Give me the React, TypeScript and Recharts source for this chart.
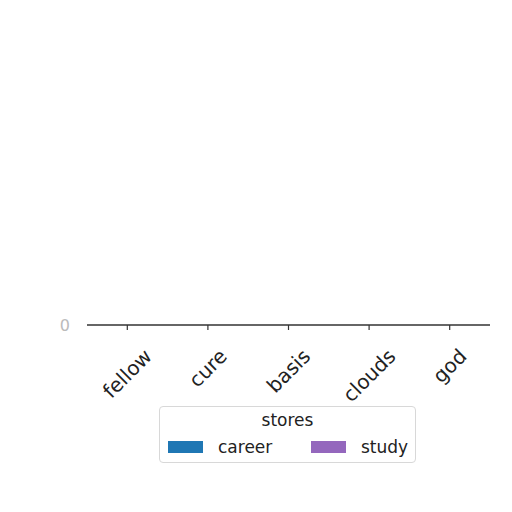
import React, { useLayoutEffect, useRef, useState } from 'react';
import { BarChart, Bar, XAxis, YAxis, Legend } from 'recharts';

const categories = ['fellow', 'cure', 'basis', 'clouds', 'god'];
const career = [0, 0, 0, 0, 0];
const study = [0, 0, 0, 0, 0];
const yTicks = [0];
const legendTitle = 'stores';

const data = categories.map((c, i) => ({ name: c, career: career[i], study: study[i] }));

const FONT = '"DejaVu Sans", sans-serif';
const FS = 17;
const TFS = 20;

function RotTick(props: any) {
  const { x, y, payload } = props;
  const ref = useRef<SVGTextElement>(null);
  const [len, setLen] = useState(payload.value.length * TFS * 0.58);
  useLayoutEffect(() => {
    if (ref.current) {
      const l = ref.current.getComputedTextLength();
      if (Math.abs(l - len) > 0.5) setLen(l);
    }
  }, [payload.value]);
  const h = (len + TFS * 0.8) * Math.SQRT1_2;
  const cy = y + 17 + h / 2;
  return (
    <text
      ref={ref}
      x={x}
      y={cy}
      textAnchor="middle"
      dominantBaseline="central"
      transform={`rotate(-45, ${x}, ${cy})`}
      style={{ fontFamily: FONT, fontSize: TFS }}
      fill="#222"
    >
      {payload.value}
    </text>
  );
}

function LegendBox() {
  const txt: React.CSSProperties = {
    position: 'absolute',
    height: 20,
    lineHeight: '20px',
    fontFamily: FONT,
    fontSize: FS,
    color: '#222',
    whiteSpace: 'nowrap',
  };
  return (
    <div
      style={{
        position: 'relative',
        boxSizing: 'border-box',
        width: 257,
        height: 57,
        border: '1px solid #d8d8d8',
        borderRadius: 4,
        background: '#fff',
      }}
    >
      <div style={{ ...txt, top: 3, left: 0, width: 255, textAlign: 'center' }}>{legendTitle}</div>
      <div style={{ position: 'absolute', left: 8, top: 34, width: 35, height: 12, background: '#1f77b4' }} />
      <div style={{ ...txt, left: 58, top: 30 }}>career</div>
      <div style={{ position: 'absolute', left: 151, top: 34, width: 35, height: 12, background: '#9467bd' }} />
      <div style={{ ...txt, left: 201, top: 30 }}>study</div>
    </div>
  );
}

export default function App() {
  return (
    <div style={{ position: 'fixed', left: 0, top: 0, width: 512, height: 512, background: '#fff' }}>
      <BarChart
        width={512}
        height={512}
        data={data}
        margin={{ top: 10, right: 22, bottom: 49, left: 0 }}
        barCategoryGap="20%"
      >
        <XAxis
          dataKey="name"
          height={81}
          tickSize={5}
          tickMargin={0}
          interval={0}
          stroke="#333"
          axisLine={{ stroke: '#333', strokeWidth: 1.5 }}
          tickLine={{ stroke: '#333', strokeWidth: 1.2 }}
          tick={<RotTick />}
        />
        <YAxis
          width={87}
          domain={[0, 1]}
          ticks={yTicks}
          axisLine={false}
          tickLine={false}
          tickSize={0}
          tickMargin={17}
          tick={{ fill: '#bbb', fontSize: 16, fontFamily: FONT }}
        />
        <Legend
          verticalAlign="bottom"
          align="left"
          content={<LegendBox />}
          wrapperStyle={{ left: 159, width: 257, height: 57 }}
        />
        <Bar dataKey="career" fill="#1f77b4" isAnimationActive={false} />
        <Bar dataKey="study" fill="#9467bd" isAnimationActive={false} />
      </BarChart>
    </div>
  );
}
